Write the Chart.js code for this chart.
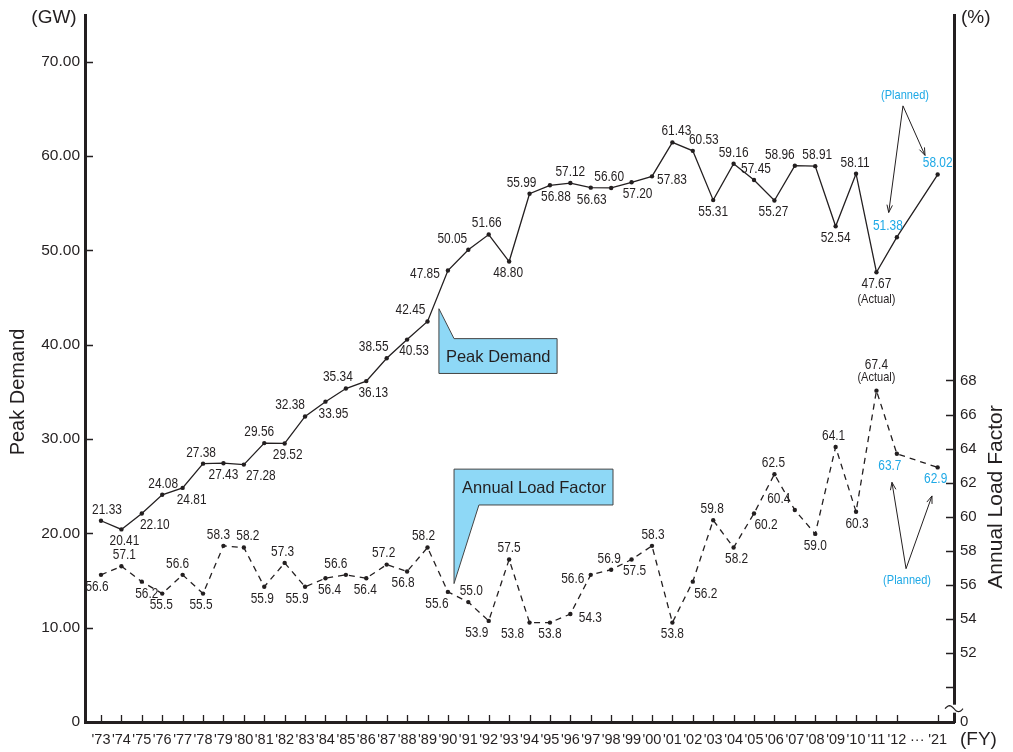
<!DOCTYPE html>
<html>
<head>
<meta charset="utf-8">
<script src="https://cdn.jsdelivr.net/npm/chart.js@4.4.0/dist/chart.umd.min.js"></script>
<style>
  html, body { margin: 0; padding: 0; background: #fff; }
</style>
</head>
<body>
<canvas id="lineChart" width="1013" height="752"></canvas>
<script>
// fiscal years ('···' is the gap between '12 and '21)
var years = ["'73", "'74", "'75", "'76", "'77", "'78", "'79", "'80", "'81", "'82",
  "'83", "'84", "'85", "'86", "'87", "'88", "'89", "'90", "'91", "'92",
  "'93", "'94", "'95", "'96", "'97", "'98", "'99", "'00", "'01", "'02",
  "'03", "'04", "'05", "'06", "'07", "'08", "'09", "'10", "'11", "'12", "···", "'21"];

// peak demand, GW
var peakDemand = [21.33, 20.41, 22.10, 24.08, 24.81, 27.38, 27.43, 27.28, 29.56, 29.52,
  32.38, 33.95, 35.34, 36.13, 38.55, 40.53, 42.45, 47.85, 50.05, 51.66,
  48.80, 55.99, 56.88, 57.12, 56.63, 56.60, 57.20, 57.83, 61.43, 60.53,
  55.31, 59.16, 57.45, 55.27, 58.96, 58.91, 52.54, 58.11, 47.67, 51.38, null, 58.02];

// annual load factor, %
var loadFactor = [56.6, 57.1, 56.2, 55.5, 56.6, 55.5, 58.3, 58.2, 55.9, 57.3,
  55.9, 56.4, 56.6, 56.4, 57.2, 56.8, 58.2, 55.6, 55.0, 53.9,
  57.5, 53.8, 53.8, 54.3, 56.6, 56.9, 57.5, 58.3, 53.8, 56.2,
  59.8, 58.2, 60.2, 62.5, 60.4, 59.0, 64.1, 60.3, 67.4, 63.7, null, 62.9];

var gwTicks = [0, 10, 20, 30, 40, 50, 60, 70];
var pctTicks = [50, 52, 54, 56, 58, 60, 62, 64, 66, 68];
var firstPlanned = 39;

// where each value label sits: a = above, b = below, t = high above, l/r = beside; number = x shift
var peakPlace = ["a6", "b3", "b13", "a1", "b9", "a-2", "b0", "b17", "a-5", "b3",
  "a-15", "b8", "a-8", "b7", "a-13", "b7", "a-17", "l-23", "a-16", "a-2",
  "b-1", "a-8", "b6", "a0", "b1", "a-2", "b6", "r20", "a4", "a11",
  "b0", "a0", "a2", "b-1", "a-15", "a2", "b0", "a-1", "b0", "a-9", null, "a0"];
var lfPlace = ["b-4", "a3", "b5", "b-1", "a-5", "b-2", "a-5", "a4", "b-2", "a-2",
  "b-8", "b4", "a-10", "b-1", "a-3", "b-4", "a-4", "b-11", "a3", "b-12",
  "a0", "b-17", "b0", "r20", "l-18", "a-2", "b3", "a1", "b0", "b13",
  "a-1", "b3", "b12", "a-1", "a-16", "b0", "a-2", "b1", "t0", "b-7", null, "b-2"];

var INK = '#231f20';
var BLUE = '#1fa9e6';
var FONT = '"Liberation Sans", Arial, sans-serif';
var NARROW = 0.85;

function pts(arr) {
  return arr.map(function (v, i) { return { x: i, y: v }; });
}

function arrow(ctx, x1, y1, x2, y2) {
  var a = Math.atan2(y2 - y1, x2 - x1), h = 8, s = 0.35;
  ctx.beginPath();
  ctx.moveTo(x1, y1); ctx.lineTo(x2, y2);
  ctx.moveTo(x2 - h * Math.cos(a - s), y2 - h * Math.sin(a - s));
  ctx.lineTo(x2, y2);
  ctx.lineTo(x2 - h * Math.cos(a + s), y2 - h * Math.sin(a + s));
  ctx.stroke();
}

// condensed text, like the narrow face of the original
function narrowText(ctx, s, x, y) {
  ctx.save();
  ctx.translate(x, y);
  ctx.scale(NARROW, 1);
  ctx.fillText(s, 0, 0);
  ctx.restore();
}

var decor = {
  id: 'decor',
  afterDatasetsDraw: function (chart) {
    var ctx = chart.ctx, xs = chart.scales.x, ys = chart.scales.y, y2 = chart.scales.y2;
    var area = chart.chartArea;
    function P(xi, gw) { return [xs.getPixelForValue(xi), ys.getPixelForValue(gw)]; }
    ctx.save();

    // inward tick marks
    ctx.strokeStyle = INK; ctx.lineWidth = 1.3;
    ctx.beginPath();
    gwTicks.forEach(function (v) {
      if (v === 0) return;
      var y = Math.round(ys.getPixelForValue(v)) + 0.5;
      ctx.moveTo(area.left, y); ctx.lineTo(area.left + 8, y);
    });
    pctTicks.forEach(function (v) {
      var y = Math.round(y2.getPixelForValue(v)) + 0.5;
      ctx.moveTo(area.right, y); ctx.lineTo(area.right - 8, y);
    });
    years.forEach(function (c, i) {
      if (c === '···') return;
      var x = Math.round(xs.getPixelForValue(i)) + 0.5;
      ctx.moveTo(x, area.bottom); ctx.lineTo(x, area.bottom - 7);
    });
    ctx.stroke();

    // axis break on the right scale
    var by = (y2.getPixelForValue(50) + area.bottom) / 2 + 4;
    ctx.fillStyle = '#fff';
    ctx.fillRect(area.right - 3, by - 4, 6, 8);
    ctx.beginPath();
    ctx.lineWidth = 1.2;
    for (var t = 0; t <= 20; t++) {
      var px = area.right - 9 + t * 0.9;
      var py = by - Math.sin(t / 20 * Math.PI * 2) * 3;
      if (t === 0) ctx.moveTo(px, py); else ctx.lineTo(px, py);
    }
    ctx.stroke();

    // value labels
    ctx.textAlign = 'center'; ctx.textBaseline = 'middle';
    ctx.font = '14px ' + FONT;
    function labels(dsIndex, values, places, digits) {
      var meta = chart.getDatasetMeta(dsIndex);
      meta.data.forEach(function (pt, i) {
        var v = values[i];
        if (v == null) return;
        var code = places[i], k = code[0], dx = parseFloat(code.slice(1)) || 0;
        var dy = k === 'a' ? -11 : (k === 'b' ? 12 : (k === 't' ? -26 : 4));
        ctx.fillStyle = i >= firstPlanned ? BLUE : INK;
        narrowText(ctx, v.toFixed(digits), pt.x + dx, pt.y + dy);
      });
    }
    labels(0, peakDemand, peakPlace, 2);
    labels(1, loadFactor, lfPlace, 1);

    // "(Actual)" notes on '11
    ctx.fillStyle = INK;
    ctx.font = '13px ' + FONT;
    var pA = chart.getDatasetMeta(0).data[38], lA = chart.getDatasetMeta(1).data[38];
    narrowText(ctx, '(Actual)', pA.x, pA.y + 27);
    narrowText(ctx, '(Actual)', lA.x, lA.y - 13);

    // "(Planned)" notes
    ctx.fillStyle = BLUE;
    var t1 = P(39.4, 66.4), t2 = P(39.5, 15.0);
    narrowText(ctx, '(Planned)', t1[0], t1[1]);
    narrowText(ctx, '(Planned)', t2[0], t2[1]);
    ctx.strokeStyle = INK; ctx.lineWidth = 1;
    var a0 = P(39.3, 65.3), a1 = P(38.6, 54.0), a2 = P(40.38, 60.05);
    arrow(ctx, a0[0], a0[1], a1[0], a1[1]);
    arrow(ctx, a0[0], a0[1], a2[0], a2[1]);
    var b0 = P(39.45, 16.25), b1 = P(38.76, 25.4), b2 = P(40.72, 23.96);
    arrow(ctx, b0[0], b0[1], b1[0], b1[1]);
    arrow(ctx, b0[0], b0[1], b2[0], b2[1]);

    // callouts
    ctx.fillStyle = '#8ed8f6'; ctx.strokeStyle = '#444'; ctx.lineWidth = 1;
    var c = [P(16.56, 43.8), P(17.3, 40.63), P(22.35, 40.63), P(22.35, 36.94), P(16.56, 36.94)];
    ctx.beginPath();
    c.forEach(function (p, i) { if (i) ctx.lineTo(p[0], p[1]); else ctx.moveTo(p[0], p[1]); });
    ctx.closePath(); ctx.fill(); ctx.stroke();
    var d = [P(17.3, 26.8), P(25.09, 26.8), P(25.09, 23.0), P(18.52, 23.0), P(17.3, 14.67)];
    ctx.beginPath();
    d.forEach(function (p, i) { if (i) ctx.lineTo(p[0], p[1]); else ctx.moveTo(p[0], p[1]); });
    ctx.closePath(); ctx.fill(); ctx.stroke();
    ctx.fillStyle = INK; ctx.font = '16.5px ' + FONT; ctx.textAlign = 'left';
    ctx.fillText('Peak Demand', c[4][0] + 7, (c[1][1] + c[3][1]) / 2 + 1);
    ctx.fillText('Annual Load Factor', d[0][0] + 8, (d[0][1] + d[2][1]) / 2 + 1);

    // units and axis titles
    ctx.font = '19px ' + FONT;
    ctx.textAlign = 'center';
    ctx.fillText('(GW)', 54, 18);
    ctx.textAlign = 'left';
    ctx.fillText('(%)', area.right + 7, 18);
    ctx.fillText('(FY)', area.right + 6, 740);
    ctx.textAlign = 'center';
    ctx.font = '20px ' + FONT;
    ctx.save(); ctx.translate(18, 392); ctx.rotate(-Math.PI / 2);
    ctx.fillText('Peak Demand', 0, 0); ctx.restore();
    ctx.font = '21px ' + FONT;
    ctx.save(); ctx.translate(996, 497); ctx.rotate(-Math.PI / 2);
    ctx.fillText('Annual Load Factor', 0, 0); ctx.restore();

    ctx.restore();
  }
};

var ctxL = document.getElementById('lineChart').getContext('2d');
var myLineChart = new Chart(ctxL, {
  type: 'line',
  data: {
    datasets: [{
      label: 'Peak Demand',
      data: pts(peakDemand),
      yAxisID: 'y',
      borderColor: INK,
      borderWidth: 1.3,
      pointRadius: 2.2,
      pointBorderWidth: 0,
      pointBackgroundColor: INK,
      spanGaps: true,
      tension: 0
    }, {
      label: 'Annual Load Factor',
      data: pts(loadFactor),
      yAxisID: 'y2',
      borderColor: INK,
      borderWidth: 1.3,
      borderDash: [6, 5],
      pointRadius: 2.2,
      pointBorderWidth: 0,
      pointBackgroundColor: INK,
      spanGaps: true,
      tension: 0
    }]
  },
  options: {
    responsive: false,
    animation: false,
    devicePixelRatio: 1,
    layout: { padding: { top: 12, left: 0, right: 0, bottom: 0 } },
    plugins: { legend: { display: false }, tooltip: { enabled: false } },
    scales: {
      x: {
        type: 'linear',
        min: -0.784,
        max: 41.8,
        afterBuildTicks: function (s) { s.ticks = years.map(function (c, i) { return { value: i }; }); },
        afterFit: function (s) { s.height = 30; },
        grid: { display: false, drawTicks: false },
        border: { display: true, width: 3, color: INK },
        ticks: {
          autoSkip: false, maxRotation: 0, padding: 9,
          color: INK, font: { family: FONT, size: 14.5 },
          callback: function (v) { return years[v]; }
        }
      },
      y: {
        position: 'left',
        min: 0,
        max: 74.93,
        afterBuildTicks: function (s) { s.ticks = gwTicks.map(function (v) { return { value: v }; }); },
        afterFit: function (s) { s.width = 85; },
        grid: { display: false, drawTicks: false },
        border: { display: true, width: 3, color: INK },
        ticks: {
          padding: 5, color: INK, font: { family: FONT, size: 15.5 },
          callback: function (v) { return v === 0 ? '0' : v.toFixed(2); }
        }
      },
      y2: {
        position: 'right',
        min: 47.97,
        max: 89.43,
        afterBuildTicks: function (s) {
          s.ticks = [{ value: 47.97 }].concat(pctTicks.map(function (v) { return { value: v }; }));
        },
        afterFit: function (s) { s.width = 59; },
        grid: { display: false, drawTicks: false },
        border: { display: true, width: 3, color: INK },
        ticks: {
          padding: 6, color: INK, font: { family: FONT, size: 15 },
          callback: function (v) { return v < 49 ? '0' : (v === 50 ? '' : String(v)); }
        }
      }
    }
  },
  plugins: [decor]
});
</script>
</body>
</html>
